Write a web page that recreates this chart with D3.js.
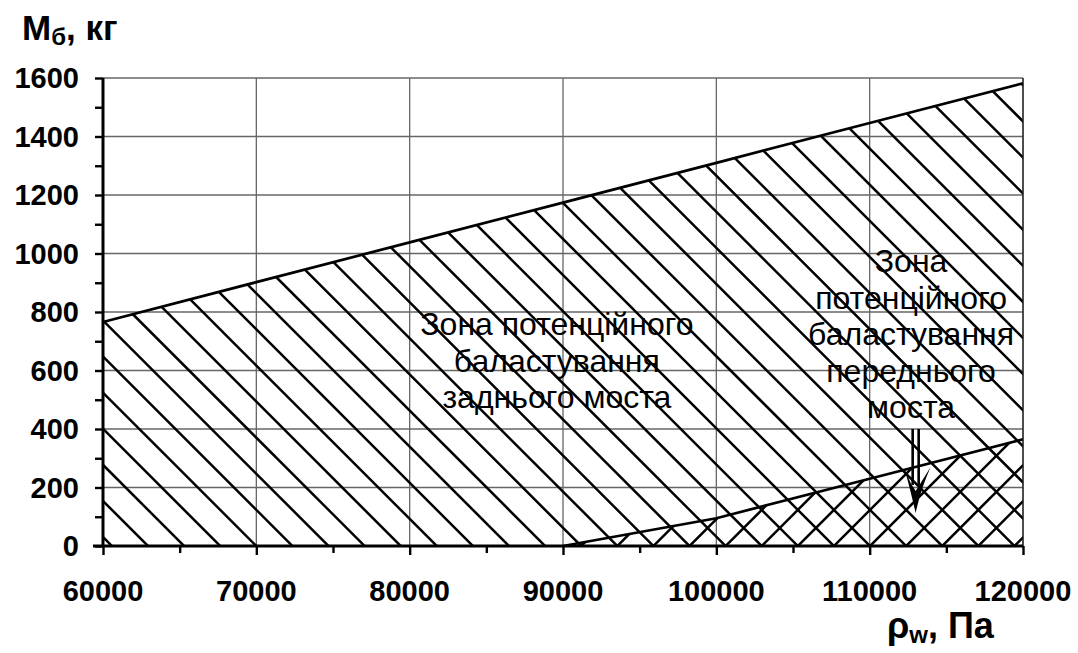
<!DOCTYPE html>
<html><head><meta charset="utf-8">
<script src="https://cdn.jsdelivr.net/npm/d3@7"></script>
<style>
html,body{margin:0;padding:0;background:#fff;}
svg{display:block;font-family:"Liberation Sans",Arial,sans-serif;}
</style></head>
<body>
<svg id="chart" width="1078" height="653"></svg>
<script>
// ---- data ----
const pressure = [60000, 70000, 80000, 90000, 100000, 110000, 120000];
const upperMass = [766, 902, 1038, 1174, 1310, 1446, 1582];
const pressureLower = [90000, 100000, 110000, 120000];
const lowerMass = [0, 95, 230, 365];
const xTicks = [60000, 70000, 80000, 90000, 100000, 110000, 120000];
const yTicks = [0, 200, 400, 600, 800, 1000, 1200, 1400, 1600];
const rearZoneText = ["Зона потенційного", "баластування", "заднього моста"];
const frontZoneText = ["Зона", "потенційного", "баластування", "переднього", "моста"];
const rearZoneAt = [89600, 1190];
const frontZoneAt = [112700, 1160];
const arrowFrom = [113000, 400];
const arrowTo = [113000, 113];

// ---- layout ----
const svg = d3.select("#chart");
const L = 103, R = 1023, T = 78, B = 546;
const x = d3.scaleLinear().domain([60000, 120000]).range([L, R]);
const y = d3.scaleLinear().domain([0, 1600]).range([B, T]);

// grid
const g = svg.append("g");
g.selectAll("line.vg").data(xTicks.slice(1)).join("line")
  .attr("x1", d => x(d)).attr("x2", d => x(d)).attr("y1", T).attr("y2", B)
  .attr("stroke", "#666").attr("stroke-width", 1.3);
g.selectAll("line.hg").data(yTicks.slice(1)).join("line")
  .attr("x1", L).attr("x2", R).attr("y1", d => y(d)).attr("y2", d => y(d))
  .attr("stroke", "#666").attr("stroke-width", 1.3);

// clip regions
const defs = svg.append("defs");
const upperArea = d3.area().x((d, i) => x(pressure[i])).y0(y(0)).y1(d => y(d));
const lowerArea = d3.area().x((d, i) => x(pressureLower[i])).y0(y(0)).y1(d => y(d));
defs.append("clipPath").attr("id", "clipUpper").append("path").attr("d", upperArea(upperMass));
defs.append("clipPath").attr("id", "clipLower").append("path").attr("d", lowerArea(lowerMass));

// hatch lines
const step = 36.1;
const x0p = x(70000), y0p = y(0);
const hatchDown = [], hatchUp = [];
{
  const base = y0p - x0p; // y - x = c
  for (let c = base - 40 * step; c <= base + 40 * step; c += step) hatchDown.push(c);
  const base2 = y0p + x0p; // y + x = c
  for (let c = base2 - 40 * step; c <= base2 + 40 * step; c += step) hatchUp.push(c);
}
svg.append("g").attr("clip-path", "url(#clipUpper)")
  .selectAll("line").data(hatchDown).join("line")
  .attr("x1", L - 5).attr("y1", c => L - 5 + c)
  .attr("x2", R + 5).attr("y2", c => R + 5 + c)
  .attr("stroke", "#000").attr("stroke-width", 2.5);
svg.append("g").attr("clip-path", "url(#clipLower)")
  .selectAll("line").data(hatchUp).join("line")
  .attr("x1", L - 5).attr("y1", c => c - (L - 5))
  .attr("x2", R + 5).attr("y2", c => c - (R + 5))
  .attr("stroke", "#000").attr("stroke-width", 2.5);

// boundary lines
const lineU = d3.line().x((d, i) => x(pressure[i])).y(d => y(d));
const lineL = d3.line().x((d, i) => x(pressureLower[i])).y(d => y(d));
svg.append("path").attr("d", lineU(upperMass)).attr("fill", "none").attr("stroke", "#000").attr("stroke-width", 2.7);
svg.append("path").attr("d", lineL(lowerMass)).attr("fill", "none").attr("stroke", "#000").attr("stroke-width", 2.7);
// right edge
svg.append("line").attr("x1", R).attr("x2", R).attr("y1", T).attr("y2", B).attr("stroke", "#222").attr("stroke-width", 1.3);

// axes
const xAxis = d3.axisBottom(x).tickValues(d3.range(60000, 120001, 5000)).tickSize(9).tickFormat("");
const yAxis = d3.axisLeft(y).tickValues(d3.range(0, 1601, 100)).tickSize(8).tickFormat("");
const gx = svg.append("g").attr("transform", `translate(0,${B})`).call(xAxis);
const gy = svg.append("g").attr("transform", `translate(${L},0)`).call(yAxis);
[gx, gy].forEach(a => {
  a.select(".domain").remove();
  a.selectAll(".tick line").attr("stroke", "#000").attr("stroke-width", 2.4);
});
gx.selectAll(".tick").filter(d => d % 10000 !== 0).select("line").attr("y2", 7);
svg.append("line").attr("x1", L - 10).attr("x2", R).attr("y1", B).attr("y2", B).attr("stroke", "#000").attr("stroke-width", 3);
svg.append("line").attr("x1", L).attr("x2", L).attr("y1", T).attr("y2", B).attr("stroke", "#000").attr("stroke-width", 3);

// tick labels
svg.append("g").selectAll("text").data(xTicks).join("text")
  .attr("x", d => x(d)).attr("y", 601).attr("text-anchor", "middle")
  .attr("font-size", 29).attr("font-weight", "bold").text(d => d);
svg.append("g").selectAll("text").data(yTicks).join("text")
  .attr("x", 79).attr("y", d => y(d)).attr("dy", "0.36em").attr("text-anchor", "end")
  .attr("font-size", 29).attr("font-weight", "bold").text(d => d);

// axis titles
const t1 = svg.append("text").attr("x", 22).attr("y", 40).attr("font-size", 35).attr("font-weight", "bold");
t1.append("tspan").text("M");
t1.append("tspan").attr("font-size", 24).attr("dy", 5).text("б");
t1.append("tspan").attr("dy", -5).text(", кг");
const t2 = svg.append("text").attr("x", 887).attr("y", 638).attr("font-size", 36).attr("font-weight", "bold");
t2.append("tspan").text("ρ");
t2.append("tspan").attr("font-size", 24).attr("dy", 5).text("w");
t2.append("tspan").attr("dy", -5).text(", Па");

// zone labels
function zone(lines, at, startBaseline) {
  svg.append("g").selectAll("text").data(lines).join("text")
    .attr("x", x(at[0])).attr("y", (d, i) => startBaseline + i * 36.5)
    .attr("text-anchor", "middle").attr("font-size", 32).attr("fill", "#000").text(d => d);
}
zone(rearZoneText, rearZoneAt, 335);
zone(frontZoneText, frontZoneAt, 272);

// arrow
const ax = x(arrowFrom[0]), ay1 = y(arrowFrom[1]), ay2 = y(arrowTo[1]);
svg.append("line").attr("x1", ax - 3).attr("x2", ax - 3).attr("y1", ay1).attr("y2", ay2 - 28).attr("stroke", "#000").attr("stroke-width", 2.6);
svg.append("line").attr("x1", ax + 3).attr("x2", ax + 3).attr("y1", ay1).attr("y2", ay2 - 28).attr("stroke", "#000").attr("stroke-width", 2.6);
svg.append("path")
  .attr("d", `M${ax - 11},${ay2 - 44} Q${ax - 5},${ay2 - 22} ${ax},${ay2} Q${ax + 5},${ay2 - 24} ${ax + 15},${ay2 - 46} L${ax + 5},${ay2 - 30} L${ax},${ay2 - 22} L${ax - 5},${ay2 - 30} Z`)
  .attr("fill", "#000");
</script>
</body></html>
